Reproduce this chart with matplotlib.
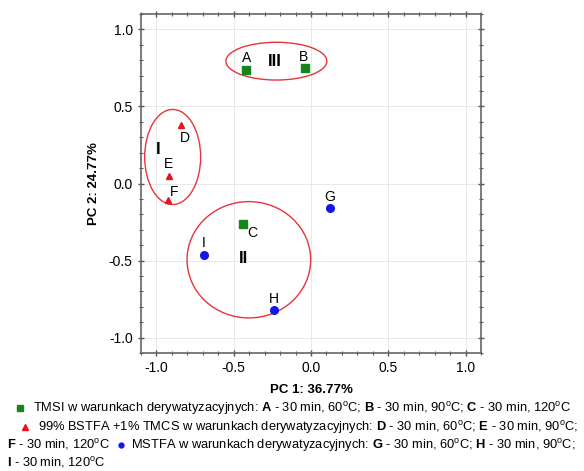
import matplotlib
matplotlib.use("Agg")
from matplotlib import pyplot as plt
from matplotlib.patches import Ellipse
from matplotlib.lines import Line2D
from matplotlib.ticker import MultipleLocator
import numpy as np

plt.rcParams['font.family'] = ['Liberation Sans', 'DejaVu Sans']
plt.rcParams['mathtext.fontset'] = 'custom'
plt.rcParams['mathtext.rm'] = 'Liberation Sans'
plt.rcParams['mathtext.it'] = 'Liberation Sans:italic'
plt.rcParams['mathtext.bf'] = 'Liberation Sans:bold'
plt.rcParams['axes.unicode_minus'] = False

# PCA scores
tmsi_x = [-0.418, -0.039, -0.438]
tmsi_y = [0.736, 0.749, -0.262]
tmsi_lab = ["A", "B", "C"]

bstfa_x = [-0.838, -0.922, -0.925]
bstfa_y = [0.377, 0.047, -0.104]
bstfa_lab = ["D", "E", "F"]

mstfa_x = [0.120, -0.240, -0.694]
mstfa_y = [-0.156, -0.823, -0.466]
mstfa_lab = ["G", "H", "I"]

# label offsets (pixels)
offsets = {"A": (0, 12), "B": (-1, 11), "C": (9, -9),
           "D": (3, -13), "E": (0, 12), "F": (6, 8),
           "G": (0, 11), "H": (0, 11), "I": (0, 12)}

# groups: name, centre, width, height
groups = ["I", "II", "III"]
grp_x = [-0.895, -0.402, -0.224]
grp_y = [0.172, -0.495, 0.794]
grp_w = [0.362, 0.80, 0.653]
grp_h = [0.617, 0.755, 0.245]
grp_lab_x = [-0.99, -0.44, -0.235]
grp_lab_y = [0.221, -0.487, 0.794]

green = "#17861a"
red = "#e8141c"
blue = "#1515e6"
ring = "#e8333a"

fig = plt.figure(figsize=(5.84, 4.71), dpi=100)
ax = fig.add_axes([141 / 584, 118 / 471, 340 / 584, 339 / 471])

for i in range(3):
    ax.add_patch(Ellipse((grp_x[i], grp_y[i]), grp_w[i], grp_h[i],
                         fill=False, edgecolor=ring, lw=1.0, zorder=2))
    ax.text(grp_lab_x[i], grp_lab_y[i], groups[i], fontsize=12,
            fontweight="bold", ha="center", va="center", zorder=4)

ax.plot(tmsi_x, tmsi_y, 's', color=green, ms=5.5, zorder=3)
ax.plot(bstfa_x, bstfa_y, '^', color=red, ms=5, zorder=3)
ax.plot(mstfa_x, mstfa_y, 'o', color=blue, ms=5.5, zorder=3)

for xs, ys, labs in [(tmsi_x, tmsi_y, tmsi_lab), (bstfa_x, bstfa_y, bstfa_lab),
                     (mstfa_x, mstfa_y, mstfa_lab)]:
    for x, y, l in zip(xs, ys, labs):
        ax.annotate(l, (x, y), xytext=offsets[l], textcoords="offset pixels",
                    ha="center", va="center", fontsize=10, zorder=4)

ax.set_xlim(-1.1, 1.1)
ax.set_ylim(-1.1, 1.1)
ax.xaxis.set_major_locator(MultipleLocator(0.5))
ax.yaxis.set_major_locator(MultipleLocator(0.5))
ax.xaxis.set_minor_locator(MultipleLocator(0.1))
ax.yaxis.set_minor_locator(MultipleLocator(0.1))
ax.tick_params(which="both", direction="inout", top=True, right=True,
               color="#555555", labelsize=10)
ax.tick_params(which="major", length=5, width=1)
ax.tick_params(which="minor", length=3, width=0.8)
ax.grid(True, which="major", color="#e4e4e4", lw=0.6)
ax.set_axisbelow(True)
for s in ax.spines.values():
    s.set_color("#666666")
    s.set_linewidth(1.2)

ax.set_xlabel("PC 1: 36.77%", fontsize=9.5, fontweight="bold", labelpad=6)
ax.set_ylabel("PC 2: 24.77%", fontsize=9.5, fontweight="bold", labelpad=6)

# caption with legend symbols
W, H = 584.0, 471.0
deg = r"$^{\mathrm{o}}$C"
line1 = ("TMSI w warunkach derywatyzacyjnych: $\\mathbf{A}$ - 30 min, 60" + deg +
         "; $\\mathbf{B}$ - 30 min, 90" + deg + "; $\\mathbf{C}$ - 30 min, 120" + deg)
line2 = ("99% BSTFA +1% TMCS w warunkach derywatyzacyjnych: $\\mathbf{D}$ - 30 min, 60" + deg +
         "; $\\mathbf{E}$ - 30 min, 90" + deg + ";")
line3a = "$\\mathbf{F}$ - 30 min, 120" + deg
line3b = ("MSTFA w warunkach derywatyzacyjnych: $\\mathbf{G}$ - 30 min, 60" + deg +
          "; $\\mathbf{H}$ - 30 min, 90" + deg + ";")
line4 = "$\\mathbf{I}$ - 30 min, 120" + deg

# fit the font size so the first line spans the same width as in the reference
renderer = fig.canvas.get_renderer()
probe = fig.text(0, 0, line1, fontsize=10)
w10 = probe.get_window_extent(renderer).width
probe.remove()
fs = 10 * 540.0 / w10

ys = [408, 427, 445, 462]
fig.add_artist(Line2D([20 / W], [1 - ys[0] / H], marker='s', color=green, ms=4.5, ls=''))
fig.text(33 / W, 1 - ys[0] / H, line1, fontsize=fs, va="center")
fig.add_artist(Line2D([25 / W], [1 - ys[1] / H], marker='^', color=red, ms=5, ls=''))
fig.text(38 / W, 1 - ys[1] / H, line2, fontsize=fs, va="center")
t3 = fig.text(7 / W, 1 - ys[2] / H, line3a, fontsize=fs, va="center")
x3 = t3.get_window_extent(renderer).x1
fig.add_artist(Line2D([(x3 + 11) / W], [1 - ys[2] / H], marker='o', color=blue, ms=3.5, ls=''))
fig.text((x3 + 21) / W, 1 - ys[2] / H, line3b, fontsize=fs, va="center")
fig.text(7 / W, 1 - ys[3] / H, line4, fontsize=fs, va="center")

fig.savefig("out.png", dpi=100)
